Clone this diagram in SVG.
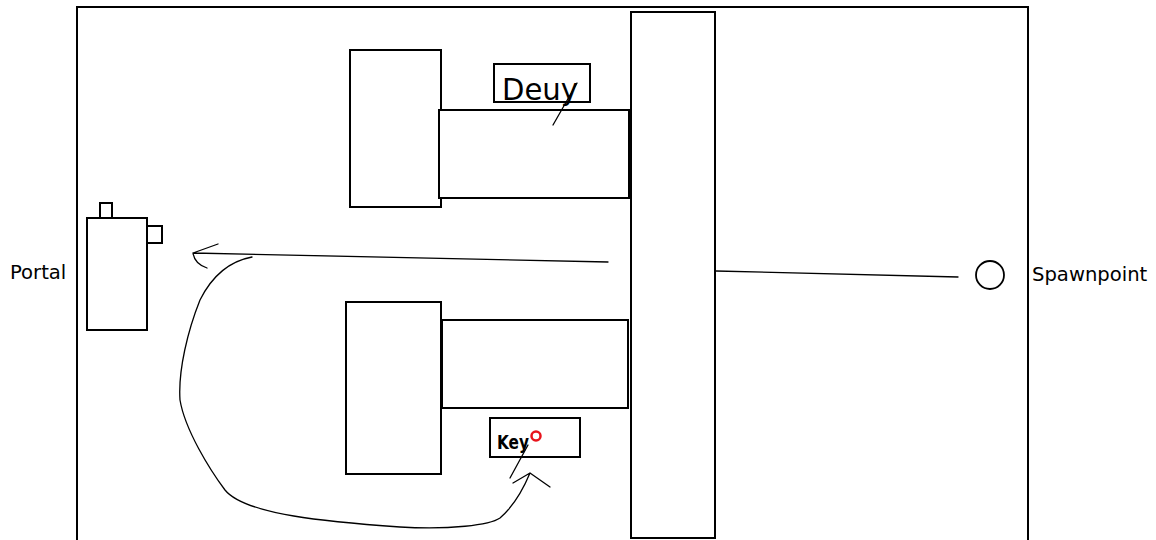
<svg xmlns="http://www.w3.org/2000/svg" width="1156" height="540" viewBox="0 0 1156 540">
<style>
.b{fill:#fff;stroke:#000;stroke-width:2}
.l{fill:none;stroke:#000;stroke-width:1.3;stroke-linecap:round;stroke-linejoin:round}
.lbl{font-family:"DejaVu Sans",sans-serif;font-size:19.6px;fill:#000}
.hand{font-family:"DejaVu Sans",sans-serif;fill:#000}
</style>
<rect width="1156" height="540" fill="#fff"/>
<g id="frame"><rect class="b" x="77" y="7" width="951" height="545"/></g>
<g id="wall"><rect class="b" x="631" y="12" width="84" height="526"/></g>
<g id="upper-room"><rect class="b" x="350" y="50" width="91" height="157"/></g>
<g id="upper-corridor"><rect class="b" x="439" y="110" width="190" height="88"/></g>
<g id="lower-room"><rect class="b" x="346" y="302" width="95" height="172"/></g>
<g id="lower-corridor"><rect class="b" x="442" y="320" width="186" height="88"/></g>
<g id="decoy"><rect class="b" x="494" y="64" width="96" height="38"/>
<text class="hand" x="502" y="100" font-size="30" textLength="76" lengthAdjust="spacingAndGlyphs">Deuy</text></g>
<g id="key"><rect class="b" x="490" y="418" width="90" height="39"/>
<text class="hand" x="497" y="449" font-size="19" font-weight="bold" textLength="32" lengthAdjust="spacingAndGlyphs">Key</text>
<circle cx="536" cy="436" r="4.5" fill="none" stroke="#e8141c" stroke-width="2.5"/></g>
<g id="portal"><rect class="b" x="87" y="218" width="60" height="112"/>
<rect class="b" x="100" y="203" width="12" height="15"/>
<rect class="b" x="147" y="226" width="15" height="17"/>
<text class="lbl" x="10" y="279">Portal</text></g>
<g id="spawnpoint"><circle cx="990" cy="275" r="14" fill="#fff" stroke="#000" stroke-width="1.8"/>
<text class="lbl" x="1032" y="281">Spawnpoint</text></g>
<g id="connectors">
<path class="l" d="M716,271 L958,277"/>
<path class="l" d="M608,262 L193,253 M193,253 L218,244 M193,253 C194,260 198,265 207,268"/>
<path class="l" d="M252,257 C225,262 210,280 200,300 C188,330 178,370 180,400 C185,430 210,470 225,490 C245,515 330,522 400,527 C450,530 490,525 500,518 C515,505 525,485 530,473 M513,483 L530,473 L550,487"/>
<path class="l" d="M528,445 L510,478"/>
<path class="l" d="M577,83 L553,125"/>
</g>
</svg>
